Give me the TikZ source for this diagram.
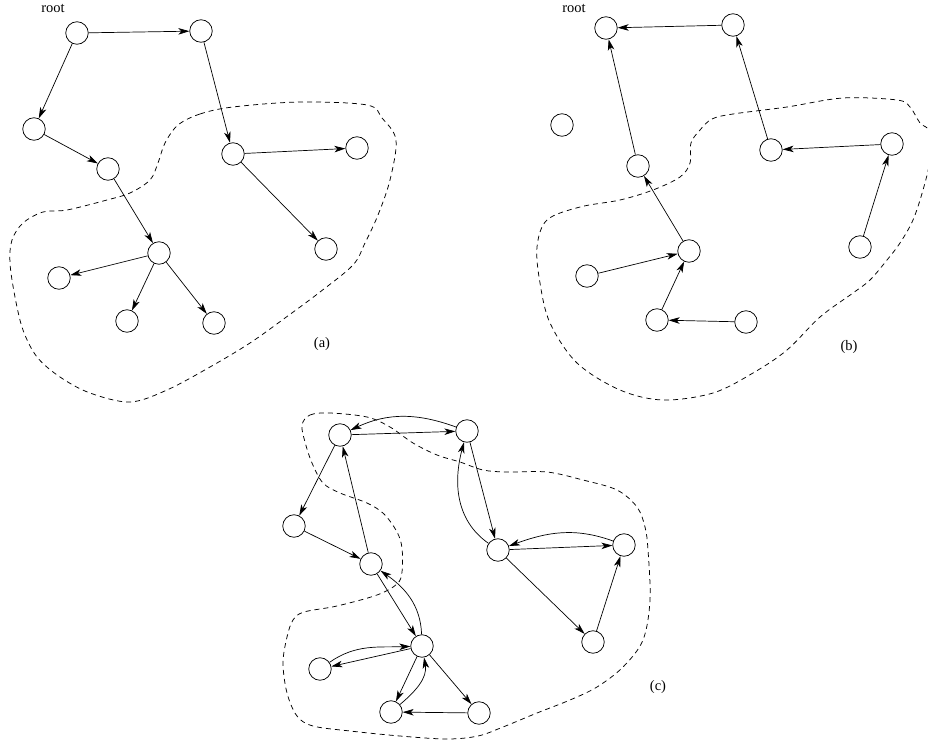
\documentclass[tikz,border=0pt]{standalone}
\usepackage{fontspec}
\setmainfont{Liberation Serif}
\usetikzlibrary{arrows.meta}
\tikzset{
  vtx/.style={circle, draw, minimum size=22.5pt, inner sep=0pt, line width=0.75pt},
  arr/.style={line width=0.7pt, -{Stealth[length=11pt,width=6.5pt,inset=3pt]}},
  blob/.style={line width=0.75pt, dash pattern=on 5pt off 4pt},
  lbl/.style={font=\fontsize{14.5}{16}\selectfont, anchor=base, inner sep=0pt}
}
\begin{document}
\begin{tikzpicture}[x=1pt,y=-1pt]
\useasboundingbox (0,0) rectangle (928,746);
\begin{scope}
\clip (0,0) rectangle (928,746);
% ---------- (a) ----------
\draw[blob] plot[smooth cycle, tension=0.55] coordinates {
 (178,125) (200,114) (233,107) (300,102) (367,105) (382,118) (396,140)
 (390,180) (378,215) (365,243) (353,265) (320,292) (285,318) (250,343)
 (210,367) (167,390) (130,402) (90,393) (60,377) (37,357)
 (23,330) (15,297) (10,263) (12,240) (23,223) (43,212) (67,210)
 (107,200) (130,193) (150,180) (158,163) (165,143)};
\node[lbl] (ra) at (53,13) {root};
\node[vtx] (a1) at (77,33) {};
\node[vtx] (a2) at (201,31) {};
\node[vtx] (a3) at (34,129) {};
\node[vtx] (a4) at (108,169) {};
\node[vtx] (a5) at (233,154) {};
\node[vtx] (a6) at (357,148) {};
\node[vtx] (a7) at (159,253) {};
\node[vtx] (a8) at (326,249) {};
\node[vtx] (a9) at (59,278) {};
\node[vtx] (a10) at (127,321) {};
\node[vtx] (a11) at (214,323) {};
\draw[arr] (a1) -- (a2);
\draw[arr] (a1) -- (a3);
\draw[arr] (a3) -- (a4);
\draw[arr] (a4) -- (a7);
\draw[arr] (a2) -- (a5);
\draw[arr] (a5) -- (a6);
\draw[arr] (a5) -- (a8);
\draw[arr] (a7) -- (a9);
\draw[arr] (a7) -- (a10);
\draw[arr] (a7) -- (a11);
\node[lbl] (la) at (322,347) {(a)};
% ---------- (b) ----------
\draw[blob] plot[smooth cycle, tension=0.55] coordinates {
 (700,130) (712,119) (733,114) (787,107) (843,98) (897,100) (910,107)
 (920,123) (930,132) (930,160) (923,190) (913,220) (900,243) (887,260)
 (870,280) (853,293) (820,317) (787,350) (753,373) (713,393) (663,400)
 (620,390) (577,363) (550,323) (540,283) (537,247) (547,220) (580,207)
 (620,200) (653,190) (680,177) (690,163) (691,143)};
\node[lbl] (rb) at (574,13) {root};
\node[vtx] (b1) at (606,28) {};
\node[vtx] (b2) at (733,25) {};
\node[vtx] (b3) at (562,125) {};
\node[vtx] (b4) at (638,166) {};
\node[vtx] (b5) at (771,150) {};
\node[vtx] (b6) at (892,144) {};
\node[vtx] (b7) at (689,251) {};
\node[vtx] (b8) at (860,247) {};
\node[vtx] (b9) at (587,276) {};
\node[vtx] (b10) at (657,320) {};
\node[vtx] (b11) at (746,322) {};
\draw[arr] (b2) -- (b1);
\draw[arr] (b4) -- (b1);
\draw[arr] (b5) -- (b2);
\draw[arr] (b6) -- (b5);
\draw[arr] (b8) -- (b6);
\draw[arr] (b7) -- (b4);
\draw[arr] (b9) -- (b7);
\draw[arr] (b10) -- (b7);
\draw[arr] (b11) -- (b10);
\node[lbl] (lb) at (849,350) {(b)};
% ---------- (c) ----------
\draw[blob] plot[smooth cycle, tension=0.55] coordinates {
 (302,425) (310,415) (330,413) (367,417) (390,427) (413,443) (437,455)
 (460,462) (483,470) (507,472) (547,472) (583,480) (617,490) (637,507)
 (645,527) (648,550) (650,600) (643,640) (623,667) (597,687) (570,700)
 (537,713) (503,727) (478,736) (447,739) (400,736) (350,731) (313,726)
 (297,716) (287,693) (283,663) (287,637) (293,620) (304,612) (337,606)
 (377,595) (397,584) (402,572) (402,548) (397,532) (384,514) (367,503)
 (340,493) (323,483) (312,463) (305,442)};
\node[vtx] (c1) at (340,435) {};
\node[vtx] (c2) at (467,431) {};
\node[vtx] (c3) at (294,526) {};
\node[vtx] (c4) at (371,564) {};
\node[vtx] (c5) at (498,550) {};
\node[vtx] (c6) at (624,545) {};
\node[vtx] (c7) at (422,646) {};
\node[vtx] (c8) at (593,642) {};
\node[vtx] (c9) at (320,669) {};
\node[vtx] (c10) at (391,712) {};
\node[vtx] (c11) at (479,713) {};
\draw[arr] (c1) -- (c2);
\draw[arr] (c2) to[out=160,in=25] (c1);
\draw[arr] (c1) -- (c3);
\draw[arr] (c3) -- (c4);
\draw[arr] (c4) -- (c1);
\draw[arr] (c4) -- (c7);
\draw[arr] (c7) to[out=92,in=-35] (c4);
\draw[arr] (c2) -- (c5);
\draw[arr] (c5) to[out=145,in=-105] (c2);
\draw[arr] (c5) -- (c6);
\draw[arr] (c6) to[out=160,in=20] (c5);
\draw[arr] (c5) -- (c8);
\draw[arr] (c8) -- (c6);
\draw[arr] (c9) to[out=35,in=182] (c7);
\draw[arr] (c7) -- (c9);
\draw[arr] (c7) -- (c10);
\draw[arr] (c10) to[out=40,in=-80] (c7);
\draw[arr] (c7) -- (c11);
\draw[arr] (c11) -- (c10);
\node[lbl] (lc) at (658,690) {(c)};
\end{scope}
\end{tikzpicture}
\end{document}
